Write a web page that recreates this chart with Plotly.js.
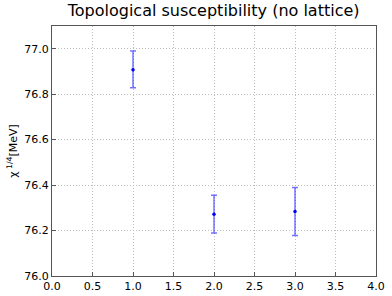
<!DOCTYPE html>
<html><head><meta charset="utf-8">
<script src="https://cdn.plot.ly/plotly-3.0.1.min.js"></script>
<style>body{margin:0;background:#fff}#c{width:392px;height:296px}</style>
</head><body><div id="c"></div>
<script>
const xs = [1, 2, 3];
const ys = [76.908, 76.272, 76.284];
const errPlus = [0.082, 0.083, 0.105];
const errMinus = [0.080, 0.083, 0.106];
const titleText = 'Topological susceptibility (no lattice)';
const yTitle = 'χ<sup> 1/4</sup>[MeV]';

Plotly.newPlot('c', [{
  x: xs, y: ys, type: 'scatter', mode: 'markers',
  marker: {color: '#0000ff', size: 3.5},
  error_y: {type: 'data', symmetric: false, array: errPlus, arrayminus: errMinus,
            color: 'rgba(0,0,255,0.55)', thickness: 1.5, width: 3}
}], {
  width: 392, height: 296,
  margin: {l: 52, r: 16, t: 26, b: 20},
  paper_bgcolor: '#fff', plot_bgcolor: '#fff',
  title: {text: titleText, x: 0.545, xanchor: 'center', y: 0.985, yanchor: 'top',
          font: {family: 'DejaVu Sans', size: 16, color: '#000'}},
  showlegend: false,
  xaxis: {range: [0, 4], dtick: 0.5, tick0: 0, tickformat: '.1f',
          showgrid: true, gridcolor: '#bdbdbd', griddash: '1px,2px', gridwidth: 1,
          zeroline: false, showline: true, mirror: true, linecolor: '#555', linewidth: 1,
          ticks: 'inside', ticklen: 4, tickcolor: '#555',
          tickfont: {family: 'DejaVu Sans', size: 11, color: '#000'}},
  yaxis: {range: [76.0, 77.1], dtick: 0.2, tick0: 76, tickformat: '.1f',
          showgrid: true, gridcolor: '#bdbdbd', griddash: '1px,2px', gridwidth: 1,
          zeroline: false, showline: true, mirror: true, linecolor: '#555', linewidth: 1,
          ticks: 'inside', ticklen: 4, tickcolor: '#555',
          tickfont: {family: 'DejaVu Sans', size: 11, color: '#000'},
          title: {text: yTitle, standoff: 4, font: {family: 'DejaVu Sans', size: 11, color: '#000'}}}
}, {displayModeBar: false, staticPlot: true});
</script></body></html>
